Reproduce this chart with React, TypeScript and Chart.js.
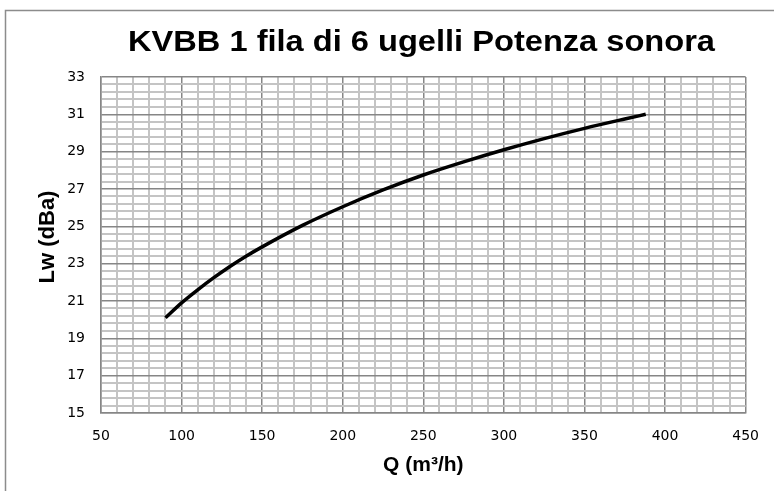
import React, { useEffect, useRef } from "react";
import { Chart, registerables } from "chart.js";

Chart.register(...registerables);

// Data
const flowQ = [90, 100, 110, 120, 130, 140, 150, 175, 200, 225, 250, 275, 300, 325, 350, 375, 388];
const soundLw = [20.1, 20.9, 21.6, 22.25, 22.85, 23.4, 23.9, 25.05, 26.05, 26.95, 27.75, 28.45, 29.1, 29.7, 30.25, 30.75, 31.0];

const xMajorTicks = [50, 100, 150, 200, 250, 300, 350, 400, 450];
const yMajorTicks = [15, 17, 19, 21, 23, 25, 27, 29, 31, 33];
const minorPerMajor = 5;

const chartTitle = "KVBB 1 fila di 6 ugelli Potenza sonora";
const xTitle = "Q (m³/h)";
const yTitle = "Lw (dBa)";

const MAJOR_COLOR = "#868686";
const MINOR_COLOR = "#c4c4c4";

function buildTicks(majors: number[]) {
  const out: { value: number }[] = [];
  for (let i = 0; i < majors.length; i++) {
    out.push({ value: majors[i] });
    if (i < majors.length - 1) {
      const step = (majors[i + 1] - majors[i]) / minorPerMajor;
      for (let k = 1; k < minorPerMajor; k++) out.push({ value: majors[i] + step * k });
    }
  }
  return out;
}

const isMajor = (v: number, majors: number[]) => majors.some((m) => Math.abs(m - v) < 1e-6);

const decorPlugin = {
  id: "decor",
  beforeDraw(chart: any) {
    const ctx = chart.ctx;
    ctx.save();
    ctx.fillStyle = "#ffffff";
    ctx.fillRect(0, 0, chart.width, chart.height);
    ctx.restore();
  },
  afterDraw(chart: any) {
    const ctx = chart.ctx;
    const area = chart.chartArea;
    ctx.save();
    // outer frame
    ctx.strokeStyle = "#8c8c8c";
    ctx.lineWidth = 1.5;
    ctx.beginPath();
    ctx.moveTo(5.5, chart.height + 5);
    ctx.lineTo(5.5, 10.5);
    ctx.lineTo(chart.width + 5, 10.5);
    ctx.stroke();

    // main title (slightly stretched)
    ctx.fillStyle = "#000000";
    ctx.font = "bold 30px 'Liberation Sans', Arial, sans-serif";
    ctx.textAlign = "center";
    ctx.textBaseline = "alphabetic";
    const w = ctx.measureText(chartTitle).width;
    const target = 587;
    ctx.save();
    ctx.translate(421.5, 51);
    ctx.scale(target / w, 1);
    ctx.fillText(chartTitle, 0, 0);
    ctx.restore();

    // x title
    ctx.font = "bold 21px 'Liberation Sans', Arial, sans-serif";
    ctx.textBaseline = "middle";
    ctx.fillText(xTitle, (area.left + area.right) / 2, 465);

    // y title
    ctx.save();
    ctx.translate(48, 237);
    ctx.rotate(-Math.PI / 2);
    ctx.font = "bold 22px 'Liberation Sans', Arial, sans-serif";
    ctx.fillText(yTitle, 0, 0);
    ctx.restore();
    ctx.restore();
  },
};

export default function App() {
  const ref = useRef<HTMLCanvasElement | null>(null);
  useEffect(() => {
    if (!ref.current) return;
    const chart = new Chart(ref.current, {
      type: "line",
      data: {
        datasets: [
          {
            data: flowQ.map((q, i) => ({ x: q, y: soundLw[i] })),
            borderColor: "#000000",
            borderWidth: 3.5,
            pointRadius: 0,
            tension: 0.4,
            cubicInterpolationMode: "monotone",
            fill: false,
          },
        ],
      },
      options: {
        animation: false,
        responsive: false,
        maintainAspectRatio: false,
        layout: { padding: { top: 77, right: 28, left: 0, bottom: 0 } },
        plugins: {
          legend: { display: false },
          tooltip: { enabled: false },
          title: { display: false },
        },
        scales: {
          x: {
            type: "linear",
            min: 50,
            max: 450,
            afterBuildTicks: (scale: any) => {
              scale.ticks = buildTicks(xMajorTicks);
            },
            afterFit: (scale: any) => {
              scale.height = 78;
            },
            ticks: {
              autoSkip: false,
              maxRotation: 0,
              padding: 15,
              color: "#000000",
              font: { family: "'DejaVu Sans', sans-serif", size: 14 },
              callback: (v: any) => (isMajor(Number(v), xMajorTicks) ? String(v) : ""),
            },
            grid: {
              drawTicks: false,
              color: (c: any) => (c.tick && isMajor(c.tick.value, xMajorTicks) ? MAJOR_COLOR : MINOR_COLOR),
              lineWidth: (c: any) => (c.tick && isMajor(c.tick.value, xMajorTicks) ? 1.5 : 2),
            },
            border: { color: MAJOR_COLOR, width: 1.5 },
          },
          y: {
            type: "linear",
            min: 15,
            max: 33,
            afterBuildTicks: (scale: any) => {
              scale.ticks = buildTicks(yMajorTicks);
            },
            afterFit: (scale: any) => {
              scale.width = 101;
            },
            ticks: {
              autoSkip: false,
              padding: 16,
              color: "#000000",
              font: { family: "'DejaVu Sans', sans-serif", size: 14 },
              callback: (v: any) => (isMajor(Number(v), yMajorTicks) ? String(Math.round(Number(v))) : ""),
            },
            grid: {
              drawTicks: false,
              color: (c: any) => (c.tick && isMajor(c.tick.value, yMajorTicks) ? MAJOR_COLOR : MINOR_COLOR),
              lineWidth: (c: any) => (c.tick && isMajor(c.tick.value, yMajorTicks) ? 1.5 : 2),
            },
            border: { color: MAJOR_COLOR, width: 1.5 },
          },
        },
      },
      plugins: [decorPlugin],
    } as any);
    return () => chart.destroy();
  }, []);
  return (
    <div style={{ position: "fixed", left: 0, top: 0, width: 774, height: 491 }}>
      <canvas ref={ref} width={774} height={491} style={{ width: 774, height: 491, display: "block" }} />
    </div>
  );
}
